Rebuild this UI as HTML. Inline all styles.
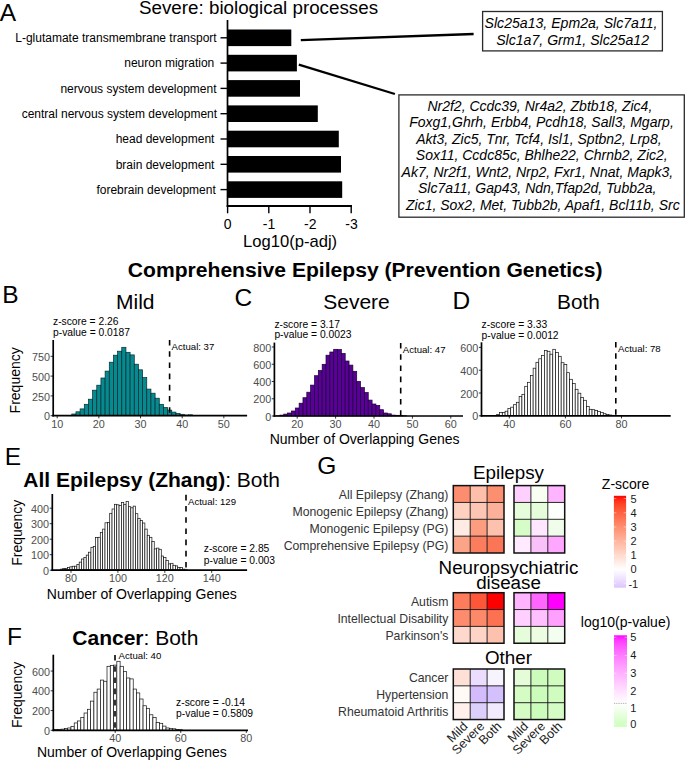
<!DOCTYPE html>
<html><head><meta charset="utf-8"><style>
html,body{margin:0;padding:0;background:#fff;}
svg{display:block;}
text{font-family:"Liberation Sans", sans-serif;}
</style></head><body>
<svg width="685" height="760" viewBox="0 0 685 760">
<rect x="0" y="0" width="685" height="760" fill="#fff"/>
<text x="-0.30" y="20.80" font-size="24.5" text-anchor="start" fill="#000">A</text>
<text x="139.00" y="13.60" font-size="18.8" text-anchor="start" fill="#000">Severe: biological processes</text>
<rect x="228.00" y="29.50" width="63.30" height="16.60" fill="#000" />
<line x1="220.50" y1="37.80" x2="227.50" y2="37.80" stroke="#000" stroke-width="1.4" />
<text x="216.70" y="42.10" font-size="12" text-anchor="end" fill="#000">L-glutamate transmembrane transport</text>
<rect x="228.00" y="54.80" width="68.90" height="16.60" fill="#000" />
<line x1="220.50" y1="63.10" x2="227.50" y2="63.10" stroke="#000" stroke-width="1.4" />
<text x="214.30" y="67.40" font-size="12" text-anchor="end" fill="#000">neuron migration</text>
<rect x="228.00" y="80.10" width="72.00" height="16.60" fill="#000" />
<line x1="220.50" y1="88.40" x2="227.50" y2="88.40" stroke="#000" stroke-width="1.4" />
<text x="216.50" y="92.70" font-size="12" text-anchor="end" fill="#000">nervous system development</text>
<rect x="228.00" y="105.40" width="89.80" height="16.60" fill="#000" />
<line x1="220.50" y1="113.70" x2="227.50" y2="113.70" stroke="#000" stroke-width="1.4" />
<text x="217.10" y="118.00" font-size="12" text-anchor="end" fill="#000">central nervous system development</text>
<rect x="228.00" y="130.70" width="110.80" height="16.60" fill="#000" />
<line x1="220.50" y1="139.00" x2="227.50" y2="139.00" stroke="#000" stroke-width="1.4" />
<text x="214.40" y="143.30" font-size="12" text-anchor="end" fill="#000">head development</text>
<rect x="228.00" y="156.00" width="113.00" height="16.60" fill="#000" />
<line x1="220.50" y1="164.30" x2="227.50" y2="164.30" stroke="#000" stroke-width="1.4" />
<text x="214.40" y="168.60" font-size="12" text-anchor="end" fill="#000">brain development</text>
<rect x="228.00" y="181.30" width="114.20" height="16.60" fill="#000" />
<line x1="220.50" y1="189.60" x2="227.50" y2="189.60" stroke="#000" stroke-width="1.4" />
<text x="215.80" y="193.90" font-size="12" text-anchor="end" fill="#000">forebrain development</text>
<line x1="227.50" y1="20.00" x2="227.50" y2="206.90" stroke="#000" stroke-width="1.7" />
<line x1="226.70" y1="206.00" x2="352.00" y2="206.00" stroke="#000" stroke-width="1.8" />
<line x1="227.60" y1="206.00" x2="227.60" y2="213.30" stroke="#000" stroke-width="1.4" />
<text x="227.60" y="229.30" font-size="14" text-anchor="middle" fill="#000">0</text>
<line x1="268.80" y1="206.00" x2="268.80" y2="213.30" stroke="#000" stroke-width="1.4" />
<text x="269.10" y="229.30" font-size="14" text-anchor="middle" fill="#000">-1</text>
<line x1="310.00" y1="206.00" x2="310.00" y2="213.30" stroke="#000" stroke-width="1.4" />
<text x="310.30" y="229.30" font-size="14" text-anchor="middle" fill="#000">-2</text>
<line x1="351.20" y1="206.00" x2="351.20" y2="213.30" stroke="#000" stroke-width="1.4" />
<text x="351.50" y="229.30" font-size="14" text-anchor="middle" fill="#000">-3</text>
<text x="243.00" y="247.00" font-size="16.6" text-anchor="start" fill="#000">Log10(p-adj)</text>
<line x1="300.80" y1="40.20" x2="473.60" y2="34.00" stroke="#000" stroke-width="2.3" />
<line x1="298.80" y1="64.60" x2="394.90" y2="94.00" stroke="#000" stroke-width="2.3" />
<rect x="482.60" y="11.50" width="179.80" height="39.40" fill="none" stroke="#2a2a2a" stroke-width="1.3" />
<text x="571.00" y="27.60" font-size="14.1" text-anchor="middle" fill="#000" font-style="italic">Slc25a13, Epm2a, Slc7a11,</text>
<text x="572.60" y="44.70" font-size="14.1" text-anchor="middle" fill="#000" font-style="italic">Slc1a7, Grm1, Slc25a12</text>
<rect x="398.90" y="94.90" width="285.40" height="122.30" fill="none" stroke="#2a2a2a" stroke-width="1.3" />
<text x="427.40" y="110.80" font-size="14" text-anchor="start" fill="#000" font-style="italic">Nr2f2, Ccdc39, Nr4a2, Zbtb18, Zic4,</text>
<text x="409.20" y="127.25" font-size="14" text-anchor="start" fill="#000" font-style="italic">Foxg1,Ghrh, Erbb4, Pcdh18, Sall3, Mgarp,</text>
<text x="416.20" y="143.70" font-size="14" text-anchor="start" fill="#000" font-style="italic">Akt3, Zic5, Tnr, Tcf4, Isl1, Sptbn2, Lrp8,</text>
<text x="415.80" y="160.15" font-size="14" text-anchor="start" fill="#000" font-style="italic">Sox11, Ccdc85c, Bhlhe22, Chrnb2, Zic2,</text>
<text x="401.60" y="176.60" font-size="14" text-anchor="start" fill="#000" font-style="italic">Ak7, Nr2f1, Wnt2, Nrp2, Fxr1, Nnat, Mapk3,</text>
<text x="418.00" y="193.05" font-size="14" text-anchor="start" fill="#000" font-style="italic">Slc7a11, Gap43, Ndn,Tfap2d, Tubb2a,</text>
<text x="406.00" y="209.50" font-size="14" text-anchor="start" fill="#000" font-style="italic">Zic1, Sox2, Met, Tubb2b, Apaf1, Bcl11b, Src</text>
<text x="127.80" y="277.40" font-size="21.1" text-anchor="start" fill="#000" font-weight="bold">Comprehensive Epilepsy (Prevention Genetics)</text>
<rect x="67.62" y="415.50" width="4.17" height="0.20" fill="#068a8f" stroke="#052a2e" stroke-width="0.7" />
<rect x="71.78" y="414.00" width="4.17" height="1.70" fill="#068a8f" stroke="#052a2e" stroke-width="0.7" />
<rect x="75.95" y="411.80" width="4.17" height="3.90" fill="#068a8f" stroke="#052a2e" stroke-width="0.7" />
<rect x="80.11" y="408.90" width="4.17" height="6.80" fill="#068a8f" stroke="#052a2e" stroke-width="0.7" />
<rect x="84.28" y="404.30" width="4.17" height="11.40" fill="#068a8f" stroke="#052a2e" stroke-width="0.7" />
<rect x="88.45" y="399.20" width="4.17" height="16.50" fill="#068a8f" stroke="#052a2e" stroke-width="0.7" />
<rect x="92.61" y="390.20" width="4.17" height="25.50" fill="#068a8f" stroke="#052a2e" stroke-width="0.7" />
<rect x="96.78" y="385.20" width="4.17" height="30.50" fill="#068a8f" stroke="#052a2e" stroke-width="0.7" />
<rect x="100.94" y="378.00" width="4.17" height="37.70" fill="#068a8f" stroke="#052a2e" stroke-width="0.7" />
<rect x="105.11" y="371.10" width="4.17" height="44.60" fill="#068a8f" stroke="#052a2e" stroke-width="0.7" />
<rect x="109.28" y="362.20" width="4.17" height="53.50" fill="#068a8f" stroke="#052a2e" stroke-width="0.7" />
<rect x="113.44" y="355.20" width="4.17" height="60.50" fill="#068a8f" stroke="#052a2e" stroke-width="0.7" />
<rect x="117.61" y="351.20" width="4.17" height="64.50" fill="#068a8f" stroke="#052a2e" stroke-width="0.7" />
<rect x="121.77" y="347.30" width="4.17" height="68.40" fill="#068a8f" stroke="#052a2e" stroke-width="0.7" />
<rect x="125.94" y="352.30" width="4.17" height="63.40" fill="#068a8f" stroke="#052a2e" stroke-width="0.7" />
<rect x="130.10" y="354.90" width="4.17" height="60.80" fill="#068a8f" stroke="#052a2e" stroke-width="0.7" />
<rect x="134.27" y="364.20" width="4.17" height="51.50" fill="#068a8f" stroke="#052a2e" stroke-width="0.7" />
<rect x="138.44" y="369.80" width="4.17" height="45.90" fill="#068a8f" stroke="#052a2e" stroke-width="0.7" />
<rect x="142.60" y="377.60" width="4.17" height="38.10" fill="#068a8f" stroke="#052a2e" stroke-width="0.7" />
<rect x="146.77" y="389.10" width="4.17" height="26.60" fill="#068a8f" stroke="#052a2e" stroke-width="0.7" />
<rect x="150.94" y="393.20" width="4.17" height="22.50" fill="#068a8f" stroke="#052a2e" stroke-width="0.7" />
<rect x="155.10" y="398.20" width="4.17" height="17.50" fill="#068a8f" stroke="#052a2e" stroke-width="0.7" />
<rect x="159.27" y="404.30" width="4.17" height="11.40" fill="#068a8f" stroke="#052a2e" stroke-width="0.7" />
<rect x="163.43" y="407.50" width="4.17" height="8.20" fill="#068a8f" stroke="#052a2e" stroke-width="0.7" />
<rect x="167.60" y="410.10" width="4.17" height="5.60" fill="#068a8f" stroke="#052a2e" stroke-width="0.7" />
<rect x="171.77" y="412.10" width="4.17" height="3.60" fill="#068a8f" stroke="#052a2e" stroke-width="0.7" />
<rect x="175.93" y="413.40" width="4.17" height="2.30" fill="#068a8f" stroke="#052a2e" stroke-width="0.7" />
<rect x="180.10" y="414.30" width="4.17" height="1.40" fill="#068a8f" stroke="#052a2e" stroke-width="0.7" />
<rect x="184.26" y="415.00" width="4.17" height="0.70" fill="#068a8f" stroke="#052a2e" stroke-width="0.7" />
<rect x="188.43" y="414.80" width="4.17" height="0.90" fill="#068a8f" stroke="#052a2e" stroke-width="0.7" />
<rect x="192.59" y="415.40" width="4.17" height="0.30" fill="#068a8f" stroke="#052a2e" stroke-width="0.7" />
<text x="2.20" y="303.00" font-size="24.5" text-anchor="start" fill="#000">B</text>
<text x="135.30" y="308.60" font-size="21" text-anchor="middle" fill="#000">Mild</text>
<text x="53.00" y="325.20" font-size="10.3" text-anchor="start" fill="#000">z-score = 2.26</text>
<text x="53.00" y="335.50" font-size="10.3" text-anchor="start" fill="#000">p-value = 0.0187</text>
<line x1="50.60" y1="415.70" x2="53.20" y2="415.70" stroke="#333" stroke-width="1.0" />
<text x="50.00" y="420.30" font-size="10.8" text-anchor="end" fill="#4d4d4d">0</text>
<line x1="50.60" y1="395.90" x2="53.20" y2="395.90" stroke="#333" stroke-width="1.0" />
<text x="50.00" y="400.50" font-size="10.8" text-anchor="end" fill="#4d4d4d">250</text>
<line x1="50.60" y1="376.10" x2="53.20" y2="376.10" stroke="#333" stroke-width="1.0" />
<text x="50.00" y="380.70" font-size="10.8" text-anchor="end" fill="#4d4d4d">500</text>
<line x1="50.60" y1="356.30" x2="53.20" y2="356.30" stroke="#333" stroke-width="1.0" />
<text x="50.00" y="360.90" font-size="10.8" text-anchor="end" fill="#4d4d4d">750</text>
<line x1="53.20" y1="340.00" x2="53.20" y2="416.55" stroke="#000" stroke-width="1.7" />
<line x1="57.20" y1="415.70" x2="57.20" y2="418.30" stroke="#333" stroke-width="1.0" />
<text x="57.20" y="427.50" font-size="10.8" text-anchor="middle" fill="#4d4d4d">10</text>
<line x1="98.86" y1="415.70" x2="98.86" y2="418.30" stroke="#333" stroke-width="1.0" />
<text x="98.86" y="427.50" font-size="10.8" text-anchor="middle" fill="#4d4d4d">20</text>
<line x1="140.52" y1="415.70" x2="140.52" y2="418.30" stroke="#333" stroke-width="1.0" />
<text x="140.52" y="427.50" font-size="10.8" text-anchor="middle" fill="#4d4d4d">30</text>
<line x1="182.18" y1="415.70" x2="182.18" y2="418.30" stroke="#333" stroke-width="1.0" />
<text x="182.18" y="427.50" font-size="10.8" text-anchor="middle" fill="#4d4d4d">40</text>
<line x1="223.84" y1="415.70" x2="223.84" y2="418.30" stroke="#333" stroke-width="1.0" />
<text x="223.84" y="427.50" font-size="10.8" text-anchor="middle" fill="#4d4d4d">50</text>
<line x1="52.35" y1="415.70" x2="247.10" y2="415.70" stroke="#000" stroke-width="1.7" />
<line x1="169.60" y1="340.00" x2="169.60" y2="415.00" stroke="#000" stroke-width="1.6" stroke-dasharray="5.6 5.6"/>
<text x="171.60" y="349.90" font-size="9.6" text-anchor="start" fill="#000">Actual: 37</text>
<text x="0.00" y="0.00" font-size="14" text-anchor="middle" fill="#000" transform="translate(20,380.3) rotate(-90)">Frequency</text>
<rect x="276.08" y="415.70" width="3.84" height="0.20" fill="#590098" stroke="#1c0032" stroke-width="0.7" />
<rect x="279.92" y="415.10" width="3.84" height="0.80" fill="#590098" stroke="#1c0032" stroke-width="0.7" />
<rect x="283.76" y="414.10" width="3.84" height="1.80" fill="#590098" stroke="#1c0032" stroke-width="0.7" />
<rect x="287.60" y="413.00" width="3.84" height="2.90" fill="#590098" stroke="#1c0032" stroke-width="0.7" />
<rect x="291.44" y="411.00" width="3.84" height="4.90" fill="#590098" stroke="#1c0032" stroke-width="0.7" />
<rect x="295.28" y="408.00" width="3.84" height="7.90" fill="#590098" stroke="#1c0032" stroke-width="0.7" />
<rect x="299.12" y="403.20" width="3.84" height="12.70" fill="#590098" stroke="#1c0032" stroke-width="0.7" />
<rect x="302.96" y="397.70" width="3.84" height="18.20" fill="#590098" stroke="#1c0032" stroke-width="0.7" />
<rect x="306.80" y="392.20" width="3.84" height="23.70" fill="#590098" stroke="#1c0032" stroke-width="0.7" />
<rect x="310.64" y="385.10" width="3.84" height="30.80" fill="#590098" stroke="#1c0032" stroke-width="0.7" />
<rect x="314.48" y="375.70" width="3.84" height="40.20" fill="#590098" stroke="#1c0032" stroke-width="0.7" />
<rect x="318.32" y="370.50" width="3.84" height="45.40" fill="#590098" stroke="#1c0032" stroke-width="0.7" />
<rect x="322.16" y="364.30" width="3.84" height="51.60" fill="#590098" stroke="#1c0032" stroke-width="0.7" />
<rect x="326.00" y="355.20" width="3.84" height="60.70" fill="#590098" stroke="#1c0032" stroke-width="0.7" />
<rect x="329.84" y="352.00" width="3.84" height="63.90" fill="#590098" stroke="#1c0032" stroke-width="0.7" />
<rect x="333.68" y="349.30" width="3.84" height="66.60" fill="#590098" stroke="#1c0032" stroke-width="0.7" />
<rect x="337.52" y="349.50" width="3.84" height="66.40" fill="#590098" stroke="#1c0032" stroke-width="0.7" />
<rect x="341.36" y="353.40" width="3.84" height="62.50" fill="#590098" stroke="#1c0032" stroke-width="0.7" />
<rect x="345.20" y="361.00" width="3.84" height="54.90" fill="#590098" stroke="#1c0032" stroke-width="0.7" />
<rect x="349.04" y="365.10" width="3.84" height="50.80" fill="#590098" stroke="#1c0032" stroke-width="0.7" />
<rect x="352.88" y="371.30" width="3.84" height="44.60" fill="#590098" stroke="#1c0032" stroke-width="0.7" />
<rect x="356.72" y="381.40" width="3.84" height="34.50" fill="#590098" stroke="#1c0032" stroke-width="0.7" />
<rect x="360.56" y="387.60" width="3.84" height="28.30" fill="#590098" stroke="#1c0032" stroke-width="0.7" />
<rect x="364.40" y="392.50" width="3.84" height="23.40" fill="#590098" stroke="#1c0032" stroke-width="0.7" />
<rect x="368.24" y="400.10" width="3.84" height="15.80" fill="#590098" stroke="#1c0032" stroke-width="0.7" />
<rect x="372.08" y="404.00" width="3.84" height="11.90" fill="#590098" stroke="#1c0032" stroke-width="0.7" />
<rect x="375.92" y="405.40" width="3.84" height="10.50" fill="#590098" stroke="#1c0032" stroke-width="0.7" />
<rect x="379.76" y="409.70" width="3.84" height="6.20" fill="#590098" stroke="#1c0032" stroke-width="0.7" />
<rect x="383.60" y="413.00" width="3.84" height="2.90" fill="#590098" stroke="#1c0032" stroke-width="0.7" />
<rect x="387.44" y="413.80" width="3.84" height="2.10" fill="#590098" stroke="#1c0032" stroke-width="0.7" />
<rect x="391.28" y="415.10" width="3.84" height="0.80" fill="#590098" stroke="#1c0032" stroke-width="0.7" />
<rect x="395.12" y="415.30" width="3.84" height="0.60" fill="#590098" stroke="#1c0032" stroke-width="0.7" />
<rect x="398.96" y="415.50" width="3.84" height="0.40" fill="#590098" stroke="#1c0032" stroke-width="0.7" />
<rect x="402.80" y="415.70" width="3.84" height="0.20" fill="#590098" stroke="#1c0032" stroke-width="0.7" />
<text x="234.40" y="306.40" font-size="24.5" text-anchor="start" fill="#000">C</text>
<text x="356.50" y="308.60" font-size="21.0" text-anchor="middle" fill="#000">Severe</text>
<text x="274.40" y="327.60" font-size="10.3" text-anchor="start" fill="#000">z-score = 3.17</text>
<text x="274.40" y="338.00" font-size="10.3" text-anchor="start" fill="#000">p-value = 0.0023</text>
<line x1="271.80" y1="416.00" x2="274.40" y2="416.00" stroke="#333" stroke-width="1.0" />
<text x="271.20" y="420.60" font-size="10.8" text-anchor="end" fill="#4d4d4d">0</text>
<line x1="271.80" y1="398.75" x2="274.40" y2="398.75" stroke="#333" stroke-width="1.0" />
<text x="271.20" y="403.35" font-size="10.8" text-anchor="end" fill="#4d4d4d">200</text>
<line x1="271.80" y1="381.50" x2="274.40" y2="381.50" stroke="#333" stroke-width="1.0" />
<text x="271.20" y="386.10" font-size="10.8" text-anchor="end" fill="#4d4d4d">400</text>
<line x1="271.80" y1="364.25" x2="274.40" y2="364.25" stroke="#333" stroke-width="1.0" />
<text x="271.20" y="368.85" font-size="10.8" text-anchor="end" fill="#4d4d4d">600</text>
<line x1="271.80" y1="347.00" x2="274.40" y2="347.00" stroke="#333" stroke-width="1.0" />
<text x="271.20" y="351.60" font-size="10.8" text-anchor="end" fill="#4d4d4d">800</text>
<line x1="274.40" y1="342.60" x2="274.40" y2="416.85" stroke="#000" stroke-width="1.7" />
<line x1="297.20" y1="416.00" x2="297.20" y2="418.60" stroke="#333" stroke-width="1.0" />
<text x="297.20" y="427.80" font-size="10.8" text-anchor="middle" fill="#4d4d4d">20</text>
<line x1="335.60" y1="416.00" x2="335.60" y2="418.60" stroke="#333" stroke-width="1.0" />
<text x="335.60" y="427.80" font-size="10.8" text-anchor="middle" fill="#4d4d4d">30</text>
<line x1="374.00" y1="416.00" x2="374.00" y2="418.60" stroke="#333" stroke-width="1.0" />
<text x="374.00" y="427.80" font-size="10.8" text-anchor="middle" fill="#4d4d4d">40</text>
<line x1="412.40" y1="416.00" x2="412.40" y2="418.60" stroke="#333" stroke-width="1.0" />
<text x="412.40" y="427.80" font-size="10.8" text-anchor="middle" fill="#4d4d4d">50</text>
<line x1="450.80" y1="416.00" x2="450.80" y2="418.60" stroke="#333" stroke-width="1.0" />
<text x="450.80" y="427.80" font-size="10.8" text-anchor="middle" fill="#4d4d4d">60</text>
<line x1="273.55" y1="416.00" x2="463.00" y2="416.00" stroke="#000" stroke-width="1.7" />
<line x1="400.70" y1="343.00" x2="400.70" y2="415.30" stroke="#000" stroke-width="1.6" stroke-dasharray="5.6 5.6"/>
<text x="402.80" y="352.60" font-size="9.6" text-anchor="start" fill="#000">Actual: 47</text>
<text x="364.60" y="444.10" font-size="14" text-anchor="middle" fill="#000">Number of Overlapping Genes</text>
<rect x="496.68" y="414.55" width="2.81" height="1.05" fill="#ffffff" stroke="#111" stroke-width="0.7" />
<rect x="499.48" y="412.40" width="2.81" height="3.20" fill="#ffffff" stroke="#111" stroke-width="0.7" />
<rect x="502.29" y="412.60" width="2.81" height="3.00" fill="#ffffff" stroke="#111" stroke-width="0.7" />
<rect x="505.09" y="411.20" width="2.81" height="4.40" fill="#ffffff" stroke="#111" stroke-width="0.7" />
<rect x="507.90" y="408.40" width="2.81" height="7.20" fill="#ffffff" stroke="#111" stroke-width="0.7" />
<rect x="510.70" y="407.20" width="2.81" height="8.40" fill="#ffffff" stroke="#111" stroke-width="0.7" />
<rect x="513.51" y="404.70" width="2.81" height="10.90" fill="#ffffff" stroke="#111" stroke-width="0.7" />
<rect x="516.31" y="402.30" width="2.81" height="13.30" fill="#ffffff" stroke="#111" stroke-width="0.7" />
<rect x="519.12" y="396.40" width="2.81" height="19.20" fill="#ffffff" stroke="#111" stroke-width="0.7" />
<rect x="521.92" y="394.30" width="2.81" height="21.30" fill="#ffffff" stroke="#111" stroke-width="0.7" />
<rect x="524.73" y="386.30" width="2.81" height="29.30" fill="#ffffff" stroke="#111" stroke-width="0.7" />
<rect x="527.53" y="382.30" width="2.81" height="33.30" fill="#ffffff" stroke="#111" stroke-width="0.7" />
<rect x="530.34" y="375.40" width="2.81" height="40.20" fill="#ffffff" stroke="#111" stroke-width="0.7" />
<rect x="533.14" y="368.20" width="2.81" height="47.40" fill="#ffffff" stroke="#111" stroke-width="0.7" />
<rect x="535.95" y="362.30" width="2.81" height="53.30" fill="#ffffff" stroke="#111" stroke-width="0.7" />
<rect x="538.75" y="358.80" width="2.81" height="56.80" fill="#ffffff" stroke="#111" stroke-width="0.7" />
<rect x="541.56" y="355.50" width="2.81" height="60.10" fill="#ffffff" stroke="#111" stroke-width="0.7" />
<rect x="544.36" y="350.40" width="2.81" height="65.20" fill="#ffffff" stroke="#111" stroke-width="0.7" />
<rect x="547.17" y="351.30" width="2.81" height="64.30" fill="#ffffff" stroke="#111" stroke-width="0.7" />
<rect x="549.97" y="354.20" width="2.81" height="61.40" fill="#ffffff" stroke="#111" stroke-width="0.7" />
<rect x="552.78" y="349.30" width="2.81" height="66.30" fill="#ffffff" stroke="#111" stroke-width="0.7" />
<rect x="555.58" y="352.40" width="2.81" height="63.20" fill="#ffffff" stroke="#111" stroke-width="0.7" />
<rect x="558.39" y="356.30" width="2.81" height="59.30" fill="#ffffff" stroke="#111" stroke-width="0.7" />
<rect x="561.19" y="362.70" width="2.81" height="52.90" fill="#ffffff" stroke="#111" stroke-width="0.7" />
<rect x="564.00" y="364.40" width="2.81" height="51.20" fill="#ffffff" stroke="#111" stroke-width="0.7" />
<rect x="566.80" y="372.70" width="2.81" height="42.90" fill="#ffffff" stroke="#111" stroke-width="0.7" />
<rect x="569.61" y="379.30" width="2.81" height="36.30" fill="#ffffff" stroke="#111" stroke-width="0.7" />
<rect x="572.41" y="383.50" width="2.81" height="32.10" fill="#ffffff" stroke="#111" stroke-width="0.7" />
<rect x="575.22" y="389.30" width="2.81" height="26.30" fill="#ffffff" stroke="#111" stroke-width="0.7" />
<rect x="578.02" y="393.20" width="2.81" height="22.40" fill="#ffffff" stroke="#111" stroke-width="0.7" />
<rect x="580.83" y="397.40" width="2.81" height="18.20" fill="#ffffff" stroke="#111" stroke-width="0.7" />
<rect x="583.63" y="400.30" width="2.81" height="15.30" fill="#ffffff" stroke="#111" stroke-width="0.7" />
<rect x="586.44" y="406.50" width="2.81" height="9.10" fill="#ffffff" stroke="#111" stroke-width="0.7" />
<rect x="589.24" y="409.30" width="2.81" height="6.30" fill="#ffffff" stroke="#111" stroke-width="0.7" />
<rect x="592.05" y="409.70" width="2.81" height="5.90" fill="#ffffff" stroke="#111" stroke-width="0.7" />
<rect x="594.85" y="410.60" width="2.81" height="5.00" fill="#ffffff" stroke="#111" stroke-width="0.7" />
<rect x="597.66" y="411.60" width="2.81" height="4.00" fill="#ffffff" stroke="#111" stroke-width="0.7" />
<rect x="600.46" y="412.60" width="2.81" height="3.00" fill="#ffffff" stroke="#111" stroke-width="0.7" />
<rect x="603.27" y="413.70" width="2.81" height="1.90" fill="#ffffff" stroke="#111" stroke-width="0.7" />
<rect x="606.07" y="414.60" width="2.81" height="1.00" fill="#ffffff" stroke="#111" stroke-width="0.7" />
<rect x="608.88" y="415.00" width="2.81" height="0.60" fill="#ffffff" stroke="#111" stroke-width="0.7" />
<rect x="611.68" y="415.30" width="2.81" height="0.30" fill="#ffffff" stroke="#111" stroke-width="0.7" />
<text x="452.40" y="308.60" font-size="24.5" text-anchor="start" fill="#000">D</text>
<text x="578.50" y="308.60" font-size="20.8" text-anchor="middle" fill="#000">Both</text>
<text x="481.60" y="328.20" font-size="10.3" text-anchor="start" fill="#000">z-score = 3.33</text>
<text x="481.60" y="338.50" font-size="10.3" text-anchor="start" fill="#000">p-value = 0.0012</text>
<line x1="478.90" y1="415.80" x2="481.50" y2="415.80" stroke="#333" stroke-width="1.0" />
<text x="478.30" y="420.40" font-size="10.8" text-anchor="end" fill="#4d4d4d">0</text>
<line x1="478.90" y1="393.00" x2="481.50" y2="393.00" stroke="#333" stroke-width="1.0" />
<text x="478.30" y="397.60" font-size="10.8" text-anchor="end" fill="#4d4d4d">200</text>
<line x1="478.90" y1="370.20" x2="481.50" y2="370.20" stroke="#333" stroke-width="1.0" />
<text x="478.30" y="374.80" font-size="10.8" text-anchor="end" fill="#4d4d4d">400</text>
<line x1="478.90" y1="347.40" x2="481.50" y2="347.40" stroke="#333" stroke-width="1.0" />
<text x="478.30" y="352.00" font-size="10.8" text-anchor="end" fill="#4d4d4d">600</text>
<line x1="481.50" y1="342.30" x2="481.50" y2="416.65" stroke="#000" stroke-width="1.7" />
<line x1="509.30" y1="415.80" x2="509.30" y2="418.40" stroke="#333" stroke-width="1.0" />
<text x="509.30" y="427.60" font-size="10.8" text-anchor="middle" fill="#4d4d4d">40</text>
<line x1="565.40" y1="415.80" x2="565.40" y2="418.40" stroke="#333" stroke-width="1.0" />
<text x="565.40" y="427.60" font-size="10.8" text-anchor="middle" fill="#4d4d4d">60</text>
<line x1="621.50" y1="415.80" x2="621.50" y2="418.40" stroke="#333" stroke-width="1.0" />
<text x="621.50" y="427.60" font-size="10.8" text-anchor="middle" fill="#4d4d4d">80</text>
<line x1="480.65" y1="415.80" x2="670.70" y2="415.80" stroke="#000" stroke-width="1.7" />
<line x1="615.80" y1="342.00" x2="615.80" y2="415.00" stroke="#000" stroke-width="1.6" stroke-dasharray="5.6 5.6"/>
<text x="618.00" y="352.30" font-size="9.6" text-anchor="start" fill="#000">Actual: 78</text>
<rect x="60.45" y="569.15" width="2.35" height="0.35" fill="#ffffff" stroke="#111" stroke-width="0.7" />
<rect x="62.79" y="568.57" width="2.35" height="0.93" fill="#ffffff" stroke="#111" stroke-width="0.7" />
<rect x="65.14" y="568.33" width="2.35" height="1.17" fill="#ffffff" stroke="#111" stroke-width="0.7" />
<rect x="67.48" y="567.63" width="2.35" height="1.87" fill="#ffffff" stroke="#111" stroke-width="0.7" />
<rect x="69.83" y="566.81" width="2.35" height="2.69" fill="#ffffff" stroke="#111" stroke-width="0.7" />
<rect x="72.17" y="566.23" width="2.35" height="3.27" fill="#ffffff" stroke="#111" stroke-width="0.7" />
<rect x="74.52" y="566.23" width="2.35" height="3.27" fill="#ffffff" stroke="#111" stroke-width="0.7" />
<rect x="76.86" y="564.50" width="2.35" height="5.00" fill="#ffffff" stroke="#111" stroke-width="0.7" />
<rect x="79.21" y="562.10" width="2.35" height="7.40" fill="#ffffff" stroke="#111" stroke-width="0.7" />
<rect x="81.55" y="559.00" width="2.35" height="10.50" fill="#ffffff" stroke="#111" stroke-width="0.7" />
<rect x="83.90" y="557.50" width="2.35" height="12.00" fill="#ffffff" stroke="#111" stroke-width="0.7" />
<rect x="86.24" y="555.10" width="2.35" height="14.40" fill="#ffffff" stroke="#111" stroke-width="0.7" />
<rect x="88.59" y="552.20" width="2.35" height="17.30" fill="#ffffff" stroke="#111" stroke-width="0.7" />
<rect x="90.93" y="547.30" width="2.35" height="22.20" fill="#ffffff" stroke="#111" stroke-width="0.7" />
<rect x="93.28" y="546.40" width="2.35" height="23.10" fill="#ffffff" stroke="#111" stroke-width="0.7" />
<rect x="95.62" y="537.60" width="2.35" height="31.90" fill="#ffffff" stroke="#111" stroke-width="0.7" />
<rect x="97.97" y="537.30" width="2.35" height="32.20" fill="#ffffff" stroke="#111" stroke-width="0.7" />
<rect x="100.31" y="532.40" width="2.35" height="37.10" fill="#ffffff" stroke="#111" stroke-width="0.7" />
<rect x="102.66" y="529.10" width="2.35" height="40.40" fill="#ffffff" stroke="#111" stroke-width="0.7" />
<rect x="105.00" y="522.80" width="2.35" height="46.70" fill="#ffffff" stroke="#111" stroke-width="0.7" />
<rect x="107.35" y="522.40" width="2.35" height="47.10" fill="#ffffff" stroke="#111" stroke-width="0.7" />
<rect x="109.69" y="513.30" width="2.35" height="56.20" fill="#ffffff" stroke="#111" stroke-width="0.7" />
<rect x="112.04" y="509.00" width="2.35" height="60.50" fill="#ffffff" stroke="#111" stroke-width="0.7" />
<rect x="114.38" y="504.30" width="2.35" height="65.20" fill="#ffffff" stroke="#111" stroke-width="0.7" />
<rect x="116.73" y="504.80" width="2.35" height="64.70" fill="#ffffff" stroke="#111" stroke-width="0.7" />
<rect x="119.07" y="505.50" width="2.35" height="64.00" fill="#ffffff" stroke="#111" stroke-width="0.7" />
<rect x="121.42" y="502.60" width="2.35" height="66.90" fill="#ffffff" stroke="#111" stroke-width="0.7" />
<rect x="123.76" y="504.30" width="2.35" height="65.20" fill="#ffffff" stroke="#111" stroke-width="0.7" />
<rect x="126.11" y="501.40" width="2.35" height="68.10" fill="#ffffff" stroke="#111" stroke-width="0.7" />
<rect x="128.45" y="506.70" width="2.35" height="62.80" fill="#ffffff" stroke="#111" stroke-width="0.7" />
<rect x="130.80" y="507.80" width="2.35" height="61.70" fill="#ffffff" stroke="#111" stroke-width="0.7" />
<rect x="133.14" y="506.10" width="2.35" height="63.40" fill="#ffffff" stroke="#111" stroke-width="0.7" />
<rect x="135.49" y="513.70" width="2.35" height="55.80" fill="#ffffff" stroke="#111" stroke-width="0.7" />
<rect x="137.83" y="518.30" width="2.35" height="51.20" fill="#ffffff" stroke="#111" stroke-width="0.7" />
<rect x="140.18" y="520.40" width="2.35" height="49.10" fill="#ffffff" stroke="#111" stroke-width="0.7" />
<rect x="142.52" y="523.00" width="2.35" height="46.50" fill="#ffffff" stroke="#111" stroke-width="0.7" />
<rect x="144.87" y="529.10" width="2.35" height="40.40" fill="#ffffff" stroke="#111" stroke-width="0.7" />
<rect x="147.21" y="535.30" width="2.35" height="34.20" fill="#ffffff" stroke="#111" stroke-width="0.7" />
<rect x="149.56" y="537.30" width="2.35" height="32.20" fill="#ffffff" stroke="#111" stroke-width="0.7" />
<rect x="151.90" y="541.50" width="2.35" height="28.00" fill="#ffffff" stroke="#111" stroke-width="0.7" />
<rect x="154.25" y="548.90" width="2.35" height="20.60" fill="#ffffff" stroke="#111" stroke-width="0.7" />
<rect x="156.59" y="548.10" width="2.35" height="21.40" fill="#ffffff" stroke="#111" stroke-width="0.7" />
<rect x="158.94" y="549.30" width="2.35" height="20.20" fill="#ffffff" stroke="#111" stroke-width="0.7" />
<rect x="161.28" y="556.00" width="2.35" height="13.50" fill="#ffffff" stroke="#111" stroke-width="0.7" />
<rect x="163.63" y="557.50" width="2.35" height="12.00" fill="#ffffff" stroke="#111" stroke-width="0.7" />
<rect x="165.97" y="560.40" width="2.35" height="9.10" fill="#ffffff" stroke="#111" stroke-width="0.7" />
<rect x="168.32" y="563.90" width="2.35" height="5.60" fill="#ffffff" stroke="#111" stroke-width="0.7" />
<rect x="170.66" y="563.30" width="2.35" height="6.20" fill="#ffffff" stroke="#111" stroke-width="0.7" />
<rect x="173.01" y="565.30" width="2.35" height="4.20" fill="#ffffff" stroke="#111" stroke-width="0.7" />
<rect x="175.35" y="565.90" width="2.35" height="3.60" fill="#ffffff" stroke="#111" stroke-width="0.7" />
<rect x="177.70" y="567.60" width="2.35" height="1.90" fill="#ffffff" stroke="#111" stroke-width="0.7" />
<rect x="180.04" y="567.40" width="2.35" height="2.10" fill="#ffffff" stroke="#111" stroke-width="0.7" />
<rect x="182.39" y="569.15" width="2.35" height="0.35" fill="#ffffff" stroke="#111" stroke-width="0.7" />
<rect x="184.73" y="569.30" width="2.35" height="0.20" fill="#ffffff" stroke="#111" stroke-width="0.7" />
<text x="4.80" y="464.70" font-size="24.5" text-anchor="start" fill="#000">E</text>
<text x="23.3" y="486.6" font-size="21"><tspan font-weight="bold">All Epilepsy (Zhang)</tspan><tspan>: Both</tspan></text>
<line x1="49.70" y1="570.20" x2="52.30" y2="570.20" stroke="#333" stroke-width="1.0" />
<text x="49.10" y="574.80" font-size="10.8" text-anchor="end" fill="#4d4d4d">0</text>
<line x1="49.70" y1="554.70" x2="52.30" y2="554.70" stroke="#333" stroke-width="1.0" />
<text x="49.10" y="559.30" font-size="10.8" text-anchor="end" fill="#4d4d4d">100</text>
<line x1="49.70" y1="539.20" x2="52.30" y2="539.20" stroke="#333" stroke-width="1.0" />
<text x="49.10" y="543.80" font-size="10.8" text-anchor="end" fill="#4d4d4d">200</text>
<line x1="49.70" y1="523.70" x2="52.30" y2="523.70" stroke="#333" stroke-width="1.0" />
<text x="49.10" y="528.30" font-size="10.8" text-anchor="end" fill="#4d4d4d">300</text>
<line x1="49.70" y1="508.20" x2="52.30" y2="508.20" stroke="#333" stroke-width="1.0" />
<text x="49.10" y="512.80" font-size="10.8" text-anchor="end" fill="#4d4d4d">400</text>
<line x1="52.30" y1="494.00" x2="52.30" y2="571.05" stroke="#000" stroke-width="1.7" />
<line x1="71.00" y1="570.20" x2="71.00" y2="572.80" stroke="#333" stroke-width="1.0" />
<text x="71.00" y="582.00" font-size="10.8" text-anchor="middle" fill="#4d4d4d">80</text>
<line x1="117.90" y1="570.20" x2="117.90" y2="572.80" stroke="#333" stroke-width="1.0" />
<text x="117.90" y="582.00" font-size="10.8" text-anchor="middle" fill="#4d4d4d">100</text>
<line x1="164.80" y1="570.20" x2="164.80" y2="572.80" stroke="#333" stroke-width="1.0" />
<text x="164.80" y="582.00" font-size="10.8" text-anchor="middle" fill="#4d4d4d">120</text>
<line x1="211.70" y1="570.20" x2="211.70" y2="572.80" stroke="#333" stroke-width="1.0" />
<text x="211.70" y="582.00" font-size="10.8" text-anchor="middle" fill="#4d4d4d">140</text>
<line x1="51.45" y1="570.20" x2="247.10" y2="570.20" stroke="#000" stroke-width="1.7" />
<line x1="186.00" y1="494.80" x2="186.00" y2="569.50" stroke="#000" stroke-width="1.6" stroke-dasharray="5.6 5.6"/>
<text x="188.00" y="504.80" font-size="9.6" text-anchor="start" fill="#000">Actual: 129</text>
<text x="203.80" y="552.30" font-size="10.3" text-anchor="start" fill="#000">z-score = 2.85</text>
<text x="203.80" y="563.50" font-size="10.3" text-anchor="start" fill="#000">p-value = 0.003</text>
<text x="141.80" y="598.70" font-size="14" text-anchor="middle" fill="#000">Number of Overlapping Genes</text>
<text x="0.00" y="0.00" font-size="14" text-anchor="middle" fill="#000" transform="translate(22.1,532.7) rotate(-90)">Frequency</text>
<rect x="54.57" y="729.60" width="3.28" height="0.70" fill="#ffffff" stroke="#111" stroke-width="0.7" />
<rect x="57.84" y="729.37" width="3.28" height="0.93" fill="#ffffff" stroke="#111" stroke-width="0.7" />
<rect x="61.12" y="729.13" width="3.28" height="1.17" fill="#ffffff" stroke="#111" stroke-width="0.7" />
<rect x="64.40" y="728.43" width="3.28" height="1.87" fill="#ffffff" stroke="#111" stroke-width="0.7" />
<rect x="67.68" y="727.96" width="3.28" height="2.34" fill="#ffffff" stroke="#111" stroke-width="0.7" />
<rect x="70.95" y="726.45" width="3.28" height="3.85" fill="#ffffff" stroke="#111" stroke-width="0.7" />
<rect x="74.23" y="722.94" width="3.28" height="7.36" fill="#ffffff" stroke="#111" stroke-width="0.7" />
<rect x="77.51" y="720.96" width="3.28" height="9.34" fill="#ffffff" stroke="#111" stroke-width="0.7" />
<rect x="80.79" y="717.34" width="3.28" height="12.96" fill="#ffffff" stroke="#111" stroke-width="0.7" />
<rect x="84.06" y="713.02" width="3.28" height="17.28" fill="#ffffff" stroke="#111" stroke-width="0.7" />
<rect x="87.34" y="709.28" width="3.28" height="21.02" fill="#ffffff" stroke="#111" stroke-width="0.7" />
<rect x="90.62" y="701.10" width="3.28" height="29.20" fill="#ffffff" stroke="#111" stroke-width="0.7" />
<rect x="93.90" y="692.23" width="3.28" height="38.07" fill="#ffffff" stroke="#111" stroke-width="0.7" />
<rect x="97.17" y="689.07" width="3.28" height="41.23" fill="#ffffff" stroke="#111" stroke-width="0.7" />
<rect x="100.45" y="680.08" width="3.28" height="50.22" fill="#ffffff" stroke="#111" stroke-width="0.7" />
<rect x="103.73" y="681.25" width="3.28" height="49.05" fill="#ffffff" stroke="#111" stroke-width="0.7" />
<rect x="107.01" y="666.30" width="3.28" height="64.00" fill="#ffffff" stroke="#111" stroke-width="0.7" />
<rect x="110.28" y="665.37" width="3.28" height="64.93" fill="#ffffff" stroke="#111" stroke-width="0.7" />
<rect x="113.56" y="665.13" width="3.28" height="65.17" fill="#ffffff" stroke="#111" stroke-width="0.7" />
<rect x="116.84" y="661.28" width="3.28" height="69.02" fill="#ffffff" stroke="#111" stroke-width="0.7" />
<rect x="120.12" y="666.30" width="3.28" height="64.00" fill="#ffffff" stroke="#111" stroke-width="0.7" />
<rect x="123.39" y="671.67" width="3.28" height="58.63" fill="#ffffff" stroke="#111" stroke-width="0.7" />
<rect x="126.67" y="677.98" width="3.28" height="52.32" fill="#ffffff" stroke="#111" stroke-width="0.7" />
<rect x="129.95" y="678.91" width="3.28" height="51.39" fill="#ffffff" stroke="#111" stroke-width="0.7" />
<rect x="133.23" y="689.07" width="3.28" height="41.23" fill="#ffffff" stroke="#111" stroke-width="0.7" />
<rect x="136.50" y="692.93" width="3.28" height="37.37" fill="#ffffff" stroke="#111" stroke-width="0.7" />
<rect x="139.78" y="699.00" width="3.28" height="31.30" fill="#ffffff" stroke="#111" stroke-width="0.7" />
<rect x="143.06" y="705.77" width="3.28" height="24.53" fill="#ffffff" stroke="#111" stroke-width="0.7" />
<rect x="146.34" y="708.34" width="3.28" height="21.96" fill="#ffffff" stroke="#111" stroke-width="0.7" />
<rect x="149.61" y="714.77" width="3.28" height="15.53" fill="#ffffff" stroke="#111" stroke-width="0.7" />
<rect x="152.89" y="717.45" width="3.28" height="12.85" fill="#ffffff" stroke="#111" stroke-width="0.7" />
<rect x="156.17" y="722.36" width="3.28" height="7.94" fill="#ffffff" stroke="#111" stroke-width="0.7" />
<rect x="159.45" y="723.29" width="3.28" height="7.01" fill="#ffffff" stroke="#111" stroke-width="0.7" />
<rect x="162.72" y="726.10" width="3.28" height="4.20" fill="#ffffff" stroke="#111" stroke-width="0.7" />
<rect x="166.00" y="727.96" width="3.28" height="2.34" fill="#ffffff" stroke="#111" stroke-width="0.7" />
<rect x="169.28" y="728.43" width="3.28" height="1.87" fill="#ffffff" stroke="#111" stroke-width="0.7" />
<rect x="172.56" y="728.78" width="3.28" height="1.52" fill="#ffffff" stroke="#111" stroke-width="0.7" />
<rect x="175.83" y="729.37" width="3.28" height="0.93" fill="#ffffff" stroke="#111" stroke-width="0.7" />
<rect x="179.11" y="729.72" width="3.28" height="0.58" fill="#ffffff" stroke="#111" stroke-width="0.7" />
<text x="7.00" y="645.00" font-size="24.5" text-anchor="start" fill="#000">F</text>
<text x="72.3" y="645" font-size="21"><tspan font-weight="bold">Cancer</tspan><tspan>: Both</tspan></text>
<line x1="50.70" y1="730.30" x2="53.30" y2="730.30" stroke="#333" stroke-width="1.0" />
<text x="50.10" y="734.90" font-size="10.8" text-anchor="end" fill="#4d4d4d">0</text>
<line x1="50.70" y1="710.55" x2="53.30" y2="710.55" stroke="#333" stroke-width="1.0" />
<text x="50.10" y="715.15" font-size="10.8" text-anchor="end" fill="#4d4d4d">200</text>
<line x1="50.70" y1="690.80" x2="53.30" y2="690.80" stroke="#333" stroke-width="1.0" />
<text x="50.10" y="695.40" font-size="10.8" text-anchor="end" fill="#4d4d4d">400</text>
<line x1="50.70" y1="671.05" x2="53.30" y2="671.05" stroke="#333" stroke-width="1.0" />
<text x="50.10" y="675.65" font-size="10.8" text-anchor="end" fill="#4d4d4d">600</text>
<line x1="53.30" y1="654.70" x2="53.30" y2="731.15" stroke="#000" stroke-width="1.7" />
<line x1="115.20" y1="730.30" x2="115.20" y2="732.90" stroke="#333" stroke-width="1.0" />
<text x="115.20" y="742.10" font-size="10.8" text-anchor="middle" fill="#4d4d4d">40</text>
<line x1="180.75" y1="730.30" x2="180.75" y2="732.90" stroke="#333" stroke-width="1.0" />
<text x="180.75" y="742.10" font-size="10.8" text-anchor="middle" fill="#4d4d4d">60</text>
<line x1="246.30" y1="730.30" x2="246.30" y2="732.90" stroke="#333" stroke-width="1.0" />
<text x="246.30" y="742.10" font-size="10.8" text-anchor="middle" fill="#4d4d4d">80</text>
<line x1="52.45" y1="730.30" x2="248.00" y2="730.30" stroke="#000" stroke-width="1.7" />
<line x1="115.00" y1="655.00" x2="115.00" y2="729.80" stroke="#000" stroke-width="1.6" stroke-dasharray="5.6 5.6"/>
<text x="118.60" y="658.80" font-size="9.6" text-anchor="start" fill="#000">Actual: 40</text>
<text x="176.10" y="706.10" font-size="10.3" text-anchor="start" fill="#000">z-score = -0.14</text>
<text x="176.10" y="717.00" font-size="10.3" text-anchor="start" fill="#000">p-value = 0.5809</text>
<text x="131.90" y="757.10" font-size="14" text-anchor="middle" fill="#000">Number of Overlapping Genes</text>
<text x="0.00" y="0.00" font-size="14" text-anchor="middle" fill="#000" transform="translate(21.9,694.9) rotate(-90)">Frequency</text>
<text x="317.20" y="473.60" font-size="24.5" text-anchor="start" fill="#000">G</text>
<text x="508.50" y="478.70" font-size="18.8" text-anchor="middle" fill="#000">Epilepsy</text>
<rect x="453.30" y="485.60" width="16.90" height="16.85" fill="#fc8d6e" />
<rect x="514.00" y="485.60" width="16.90" height="16.85" fill="#ffd0ff" />
<rect x="470.20" y="485.60" width="16.90" height="16.85" fill="#fdbfaa" />
<rect x="530.90" y="485.60" width="16.90" height="16.85" fill="#f8fef2" />
<rect x="487.10" y="485.60" width="16.90" height="16.85" fill="#fc8f70" />
<rect x="547.80" y="485.60" width="16.90" height="16.85" fill="#ffb4ff" />
<text x="448.40" y="499.03" font-size="12.25" text-anchor="end" fill="#333">All Epilepsy (Zhang)</text>
<rect x="453.30" y="502.45" width="16.90" height="16.85" fill="#fdd0c0" />
<rect x="514.00" y="502.45" width="16.90" height="16.85" fill="#e6fddc" />
<rect x="470.20" y="502.45" width="16.90" height="16.85" fill="#fdc6b4" />
<rect x="530.90" y="502.45" width="16.90" height="16.85" fill="#e6fddc" />
<rect x="487.10" y="502.45" width="16.90" height="16.85" fill="#fcb09a" />
<rect x="547.80" y="502.45" width="16.90" height="16.85" fill="#fdfffc" />
<text x="448.40" y="515.88" font-size="12.25" text-anchor="end" fill="#333">Monogenic Epilepsy (Zhang)</text>
<rect x="453.30" y="519.30" width="16.90" height="16.85" fill="#feece4" />
<rect x="514.00" y="519.30" width="16.90" height="16.85" fill="#d6fcc8" />
<rect x="470.20" y="519.30" width="16.90" height="16.85" fill="#fc9d80" />
<rect x="530.90" y="519.30" width="16.90" height="16.85" fill="#ffe8ff" />
<rect x="487.10" y="519.30" width="16.90" height="16.85" fill="#fdc1ae" />
<rect x="547.80" y="519.30" width="16.90" height="16.85" fill="#effdea" />
<text x="448.40" y="532.73" font-size="12.25" text-anchor="end" fill="#333">Monogenic Epilepsy (PG)</text>
<rect x="453.30" y="536.15" width="16.90" height="16.85" fill="#fca488" />
<rect x="514.00" y="536.15" width="16.90" height="16.85" fill="#ffeaff" />
<rect x="470.20" y="536.15" width="16.90" height="16.85" fill="#fb7d5d" />
<rect x="530.90" y="536.15" width="16.90" height="16.85" fill="#fac0fa" />
<rect x="487.10" y="536.15" width="16.90" height="16.85" fill="#fb7656" />
<rect x="547.80" y="536.15" width="16.90" height="16.85" fill="#ffa6ff" />
<text x="448.40" y="549.57" font-size="12.25" text-anchor="end" fill="#333">Comprehensive Epilepsy (PG)</text>
<line x1="470.20" y1="485.60" x2="470.20" y2="553.00" stroke="#111" stroke-width="0.9" />
<line x1="487.10" y1="485.60" x2="487.10" y2="553.00" stroke="#111" stroke-width="0.9" />
<line x1="453.30" y1="502.45" x2="504.00" y2="502.45" stroke="#111" stroke-width="0.9" />
<line x1="453.30" y1="519.30" x2="504.00" y2="519.30" stroke="#111" stroke-width="0.9" />
<line x1="453.30" y1="536.15" x2="504.00" y2="536.15" stroke="#111" stroke-width="0.9" />
<rect x="453.30" y="485.60" width="50.70" height="67.40" fill="none" stroke="#111" stroke-width="1.5" />
<line x1="530.90" y1="485.60" x2="530.90" y2="553.00" stroke="#111" stroke-width="0.9" />
<line x1="547.80" y1="485.60" x2="547.80" y2="553.00" stroke="#111" stroke-width="0.9" />
<line x1="514.00" y1="502.45" x2="564.70" y2="502.45" stroke="#111" stroke-width="0.9" />
<line x1="514.00" y1="519.30" x2="564.70" y2="519.30" stroke="#111" stroke-width="0.9" />
<line x1="514.00" y1="536.15" x2="564.70" y2="536.15" stroke="#111" stroke-width="0.9" />
<rect x="514.00" y="485.60" width="50.70" height="67.40" fill="none" stroke="#111" stroke-width="1.5" />
<text x="508.50" y="573.80" font-size="18.8" text-anchor="middle" fill="#000">Neuropsychiatric</text>
<text x="508.50" y="588.70" font-size="18.8" text-anchor="middle" fill="#000">disease</text>
<rect x="453.30" y="592.70" width="16.90" height="16.85" fill="#fd7c5c" />
<rect x="514.00" y="592.70" width="16.90" height="16.85" fill="#ffb4ff" />
<rect x="470.20" y="592.70" width="16.90" height="16.85" fill="#fe5638" />
<rect x="530.90" y="592.70" width="16.90" height="16.85" fill="#ff66ff" />
<rect x="487.10" y="592.70" width="16.90" height="16.85" fill="#ff0000" />
<rect x="547.80" y="592.70" width="16.90" height="16.85" fill="#ff00ff" />
<text x="448.40" y="606.12" font-size="12.25" text-anchor="end" fill="#333">Autism</text>
<rect x="453.30" y="609.55" width="16.90" height="16.85" fill="#fd8b6d" />
<rect x="514.00" y="609.55" width="16.90" height="16.85" fill="#ffd0ff" />
<rect x="470.20" y="609.55" width="16.90" height="16.85" fill="#fd896b" />
<rect x="530.90" y="609.55" width="16.90" height="16.85" fill="#ffc0ff" />
<rect x="487.10" y="609.55" width="16.90" height="16.85" fill="#fd7153" />
<rect x="547.80" y="609.55" width="16.90" height="16.85" fill="#ffa0ff" />
<text x="448.40" y="622.98" font-size="12.25" text-anchor="end" fill="#333">Intellectual Disability</text>
<rect x="453.30" y="626.40" width="16.90" height="16.85" fill="#fed8cc" />
<rect x="514.00" y="626.40" width="16.90" height="16.85" fill="#e6fddc" />
<rect x="470.20" y="626.40" width="16.90" height="16.85" fill="#fed4c6" />
<rect x="530.90" y="626.40" width="16.90" height="16.85" fill="#ecfde2" />
<rect x="487.10" y="626.40" width="16.90" height="16.85" fill="#fdc2ae" />
<rect x="547.80" y="626.40" width="16.90" height="16.85" fill="#f4fef0" />
<text x="448.40" y="639.83" font-size="12.25" text-anchor="end" fill="#333">Parkinson's</text>
<line x1="470.20" y1="592.70" x2="470.20" y2="643.25" stroke="#111" stroke-width="0.9" />
<line x1="487.10" y1="592.70" x2="487.10" y2="643.25" stroke="#111" stroke-width="0.9" />
<line x1="453.30" y1="609.55" x2="504.00" y2="609.55" stroke="#111" stroke-width="0.9" />
<line x1="453.30" y1="626.40" x2="504.00" y2="626.40" stroke="#111" stroke-width="0.9" />
<rect x="453.30" y="592.70" width="50.70" height="50.55" fill="none" stroke="#111" stroke-width="1.5" />
<line x1="530.90" y1="592.70" x2="530.90" y2="643.25" stroke="#111" stroke-width="0.9" />
<line x1="547.80" y1="592.70" x2="547.80" y2="643.25" stroke="#111" stroke-width="0.9" />
<line x1="514.00" y1="609.55" x2="564.70" y2="609.55" stroke="#111" stroke-width="0.9" />
<line x1="514.00" y1="626.40" x2="564.70" y2="626.40" stroke="#111" stroke-width="0.9" />
<rect x="514.00" y="592.70" width="50.70" height="50.55" fill="none" stroke="#111" stroke-width="1.5" />
<text x="508.50" y="664.10" font-size="18.8" text-anchor="middle" fill="#000">Other</text>
<rect x="453.30" y="669.00" width="16.90" height="16.85" fill="#fee0d6" />
<rect x="514.00" y="669.00" width="16.90" height="16.85" fill="#e4fdd8" />
<rect x="470.20" y="669.00" width="16.90" height="16.85" fill="#ecdcfe" />
<rect x="530.90" y="669.00" width="16.90" height="16.85" fill="#ccfcbc" />
<rect x="487.10" y="669.00" width="16.90" height="16.85" fill="#f8f4fe" />
<rect x="547.80" y="669.00" width="16.90" height="16.85" fill="#d0fcc0" />
<text x="448.40" y="682.42" font-size="12.25" text-anchor="end" fill="#333">Cancer</text>
<rect x="453.30" y="685.85" width="16.90" height="16.85" fill="#fffaf6" />
<rect x="514.00" y="685.85" width="16.90" height="16.85" fill="#d4fcc4" />
<rect x="470.20" y="685.85" width="16.90" height="16.85" fill="#d4bcfc" />
<rect x="530.90" y="685.85" width="16.90" height="16.85" fill="#ccfcbc" />
<rect x="487.10" y="685.85" width="16.90" height="16.85" fill="#d4c0fc" />
<rect x="547.80" y="685.85" width="16.90" height="16.85" fill="#d0fcc0" />
<text x="448.40" y="699.27" font-size="12.25" text-anchor="end" fill="#333">Hypertension</text>
<rect x="453.30" y="702.70" width="16.90" height="16.85" fill="#fff0ec" />
<rect x="514.00" y="702.70" width="16.90" height="16.85" fill="#d4fcc4" />
<rect x="470.20" y="702.70" width="16.90" height="16.85" fill="#dccffc" />
<rect x="530.90" y="702.70" width="16.90" height="16.85" fill="#ccfcbc" />
<rect x="487.10" y="702.70" width="16.90" height="16.85" fill="#f2ebfe" />
<rect x="547.80" y="702.70" width="16.90" height="16.85" fill="#d4fcc4" />
<text x="448.40" y="716.12" font-size="12.25" text-anchor="end" fill="#333">Rheumatoid Arthritis</text>
<line x1="470.20" y1="669.00" x2="470.20" y2="719.55" stroke="#111" stroke-width="0.9" />
<line x1="487.10" y1="669.00" x2="487.10" y2="719.55" stroke="#111" stroke-width="0.9" />
<line x1="453.30" y1="685.85" x2="504.00" y2="685.85" stroke="#111" stroke-width="0.9" />
<line x1="453.30" y1="702.70" x2="504.00" y2="702.70" stroke="#111" stroke-width="0.9" />
<rect x="453.30" y="669.00" width="50.70" height="50.55" fill="none" stroke="#111" stroke-width="1.5" />
<line x1="530.90" y1="669.00" x2="530.90" y2="719.55" stroke="#111" stroke-width="0.9" />
<line x1="547.80" y1="669.00" x2="547.80" y2="719.55" stroke="#111" stroke-width="0.9" />
<line x1="514.00" y1="685.85" x2="564.70" y2="685.85" stroke="#111" stroke-width="0.9" />
<line x1="514.00" y1="702.70" x2="564.70" y2="702.70" stroke="#111" stroke-width="0.9" />
<rect x="514.00" y="669.00" width="50.70" height="50.55" fill="none" stroke="#111" stroke-width="1.5" />
<text x="0.00" y="0.00" font-size="12.6" text-anchor="end" fill="#222" transform="translate(468.35,727.00) rotate(-45)">Mild</text>
<text x="0.00" y="0.00" font-size="12.6" text-anchor="end" fill="#222" transform="translate(485.25,727.00) rotate(-45)">Severe</text>
<text x="0.00" y="0.00" font-size="12.6" text-anchor="end" fill="#222" transform="translate(502.15,727.00) rotate(-45)">Both</text>
<text x="0.00" y="0.00" font-size="12.6" text-anchor="end" fill="#222" transform="translate(529.05,727.00) rotate(-45)">Mild</text>
<text x="0.00" y="0.00" font-size="12.6" text-anchor="end" fill="#222" transform="translate(545.95,727.00) rotate(-45)">Severe</text>
<text x="0.00" y="0.00" font-size="12.6" text-anchor="end" fill="#222" transform="translate(562.85,727.00) rotate(-45)">Both</text>
<defs><linearGradient id="gz" x1="0" y1="0" x2="0" y2="1"><stop offset="0.000" stop-color="#ff0100"/><stop offset="0.050" stop-color="#ff2f17"/><stop offset="0.100" stop-color="#ff4628"/><stop offset="0.150" stop-color="#ff5837"/><stop offset="0.200" stop-color="#ff6746"/><stop offset="0.250" stop-color="#ff7655"/><stop offset="0.300" stop-color="#ff8463"/><stop offset="0.350" stop-color="#ff9172"/><stop offset="0.400" stop-color="#ff9e81"/><stop offset="0.450" stop-color="#ffaa90"/><stop offset="0.500" stop-color="#ffb79f"/><stop offset="0.550" stop-color="#ffc3af"/><stop offset="0.600" stop-color="#ffcfbe"/><stop offset="0.650" stop-color="#ffdbce"/><stop offset="0.700" stop-color="#ffe7de"/><stop offset="0.750" stop-color="#fff3ee"/><stop offset="0.800" stop-color="#fffffe"/><stop offset="0.850" stop-color="#f7f1ff"/><stop offset="0.900" stop-color="#efe2ff"/><stop offset="0.950" stop-color="#e6d4ff"/><stop offset="1.000" stop-color="#dcc5ff"/></linearGradient><linearGradient id="gp" x1="0" y1="0" x2="0" y2="1"><stop offset="0.000" stop-color="#ff00ff"/><stop offset="0.050" stop-color="#ff37ff"/><stop offset="0.100" stop-color="#ff50ff"/><stop offset="0.150" stop-color="#ff64ff"/><stop offset="0.200" stop-color="#ff74ff"/><stop offset="0.250" stop-color="#ff84ff"/><stop offset="0.300" stop-color="#ff92ff"/><stop offset="0.350" stop-color="#ffa0ff"/><stop offset="0.400" stop-color="#ffadff"/><stop offset="0.450" stop-color="#ffb9ff"/><stop offset="0.500" stop-color="#ffc6ff"/><stop offset="0.550" stop-color="#ffd2ff"/><stop offset="0.600" stop-color="#ffdeff"/><stop offset="0.650" stop-color="#ffeaff"/><stop offset="0.700" stop-color="#fff5ff"/><stop offset="0.750" stop-color="#fdfffd"/><stop offset="0.800" stop-color="#f4ffef"/><stop offset="0.850" stop-color="#eaffe2"/><stop offset="0.900" stop-color="#e0ffd4"/><stop offset="0.950" stop-color="#d6ffc7"/><stop offset="1.000" stop-color="#cbffb9"/></linearGradient></defs>
<text x="625.60" y="488.70" font-size="14" text-anchor="middle" fill="#000">Z-score</text>
<rect x="613.90" y="495.80" width="12.20" height="91.90" fill="url(#gz)" />
<line x1="613.90" y1="498.60" x2="616.30" y2="498.60" stroke="#fff" stroke-width="0.6" opacity="0.8"/>
<line x1="623.70" y1="498.60" x2="626.10" y2="498.60" stroke="#fff" stroke-width="0.6" opacity="0.8"/>
<text x="630.60" y="502.50" font-size="11" text-anchor="start" fill="#1a1a1a">5</text>
<line x1="613.90" y1="512.78" x2="616.30" y2="512.78" stroke="#fff" stroke-width="0.6" opacity="0.8"/>
<line x1="623.70" y1="512.78" x2="626.10" y2="512.78" stroke="#fff" stroke-width="0.6" opacity="0.8"/>
<text x="630.60" y="516.68" font-size="11" text-anchor="start" fill="#1a1a1a">4</text>
<line x1="613.90" y1="526.96" x2="616.30" y2="526.96" stroke="#fff" stroke-width="0.6" opacity="0.8"/>
<line x1="623.70" y1="526.96" x2="626.10" y2="526.96" stroke="#fff" stroke-width="0.6" opacity="0.8"/>
<text x="630.60" y="530.86" font-size="11" text-anchor="start" fill="#1a1a1a">3</text>
<line x1="613.90" y1="541.14" x2="616.30" y2="541.14" stroke="#fff" stroke-width="0.6" opacity="0.8"/>
<line x1="623.70" y1="541.14" x2="626.10" y2="541.14" stroke="#fff" stroke-width="0.6" opacity="0.8"/>
<text x="630.60" y="545.04" font-size="11" text-anchor="start" fill="#1a1a1a">2</text>
<line x1="613.90" y1="555.32" x2="616.30" y2="555.32" stroke="#fff" stroke-width="0.6" opacity="0.8"/>
<line x1="623.70" y1="555.32" x2="626.10" y2="555.32" stroke="#fff" stroke-width="0.6" opacity="0.8"/>
<text x="630.60" y="559.22" font-size="11" text-anchor="start" fill="#1a1a1a">1</text>
<line x1="613.90" y1="569.50" x2="616.30" y2="569.50" stroke="#fff" stroke-width="0.6" opacity="0.8"/>
<line x1="623.70" y1="569.50" x2="626.10" y2="569.50" stroke="#fff" stroke-width="0.6" opacity="0.8"/>
<text x="630.60" y="573.40" font-size="11" text-anchor="start" fill="#1a1a1a">0</text>
<line x1="613.90" y1="583.68" x2="616.30" y2="583.68" stroke="#fff" stroke-width="0.6" opacity="0.8"/>
<line x1="623.70" y1="583.68" x2="626.10" y2="583.68" stroke="#fff" stroke-width="0.6" opacity="0.8"/>
<text x="628.40" y="587.58" font-size="11" text-anchor="start" fill="#1a1a1a">-1</text>
<text x="625.60" y="627.00" font-size="14" text-anchor="middle" fill="#000">log10(p-value)</text>
<rect x="614.00" y="635.30" width="13.00" height="91.50" fill="url(#gp)" />
<line x1="614.00" y1="703.40" x2="627.00" y2="703.40" stroke="#555" stroke-width="0.5" stroke-dasharray="0.9 0.9"/>
<line x1="614.00" y1="637.20" x2="616.50" y2="637.20" stroke="#fff" stroke-width="0.6" opacity="0.8"/>
<line x1="624.50" y1="637.20" x2="627.00" y2="637.20" stroke="#fff" stroke-width="0.6" opacity="0.8"/>
<text x="630.20" y="641.10" font-size="11" text-anchor="start" fill="#1a1a1a">5</text>
<line x1="614.00" y1="655.30" x2="616.50" y2="655.30" stroke="#fff" stroke-width="0.6" opacity="0.8"/>
<line x1="624.50" y1="655.30" x2="627.00" y2="655.30" stroke="#fff" stroke-width="0.6" opacity="0.8"/>
<text x="630.20" y="659.20" font-size="11" text-anchor="start" fill="#1a1a1a">4</text>
<line x1="614.00" y1="673.20" x2="616.50" y2="673.20" stroke="#fff" stroke-width="0.6" opacity="0.8"/>
<line x1="624.50" y1="673.20" x2="627.00" y2="673.20" stroke="#fff" stroke-width="0.6" opacity="0.8"/>
<text x="630.20" y="677.10" font-size="11" text-anchor="start" fill="#1a1a1a">3</text>
<line x1="614.00" y1="691.20" x2="616.50" y2="691.20" stroke="#fff" stroke-width="0.6" opacity="0.8"/>
<line x1="624.50" y1="691.20" x2="627.00" y2="691.20" stroke="#fff" stroke-width="0.6" opacity="0.8"/>
<text x="630.20" y="695.10" font-size="11" text-anchor="start" fill="#1a1a1a">2</text>
<line x1="614.00" y1="707.60" x2="616.50" y2="707.60" stroke="#fff" stroke-width="0.6" opacity="0.8"/>
<line x1="624.50" y1="707.60" x2="627.00" y2="707.60" stroke="#fff" stroke-width="0.6" opacity="0.8"/>
<text x="630.20" y="711.50" font-size="11" text-anchor="start" fill="#1a1a1a">1</text>
<line x1="614.00" y1="724.10" x2="616.50" y2="724.10" stroke="#fff" stroke-width="0.6" opacity="0.8"/>
<line x1="624.50" y1="724.10" x2="627.00" y2="724.10" stroke="#fff" stroke-width="0.6" opacity="0.8"/>
<text x="630.20" y="728.00" font-size="11" text-anchor="start" fill="#1a1a1a">0</text>
</svg>
</body></html>
